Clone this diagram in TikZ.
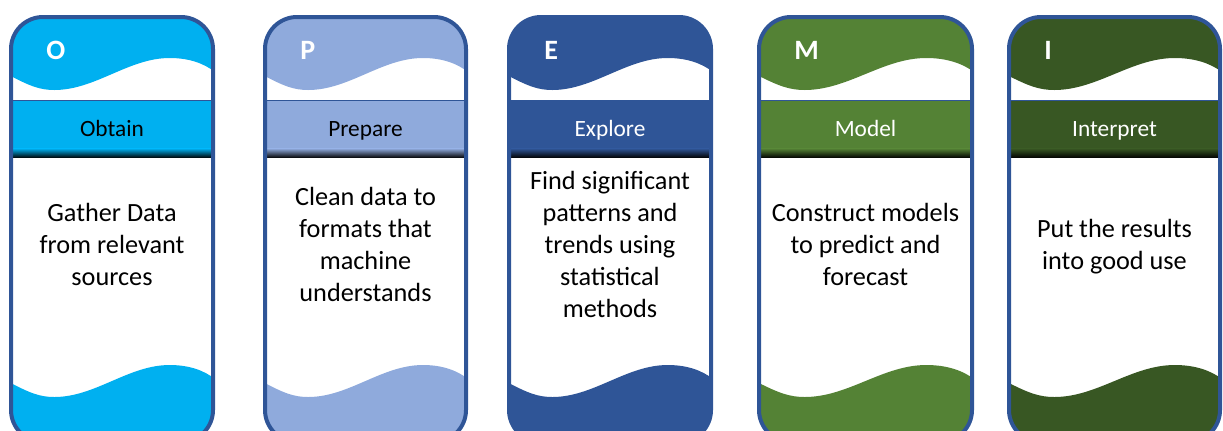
\documentclass[tikz,border=0pt]{standalone}
\usepackage{fontspec}
\setmainfont{Carlito}
\definecolor{bd}{HTML}{2F5597}
\definecolor{cO}{HTML}{00B0F0}
\definecolor{cP}{HTML}{8FAADC}
\definecolor{cE}{HTML}{2F5597}
\definecolor{cM}{HTML}{548235}
\definecolor{cI}{HTML}{385723}
\tikzset{
  lettertxt/.style={anchor=west, text=white, font=\fontsize{21}{24}\selectfont\bfseries, inner sep=0pt},
  labeltxt/.style={anchor=base, font=\fontsize{17.5}{21}\selectfont, inner sep=0pt},
  bodytxt/.style={align=center, font=\fontsize{19.7}{24}\selectfont, inner sep=0pt},
  cardborder/.style={draw=bd, line width=3pt, rounded corners=24pt}
}
\begin{document}
\begin{tikzpicture}[x=0.75pt,y=-0.75pt]
\useasboundingbox (0,0) rectangle (1223,430);
\foreach \L/\R/\c/\tc/\ltr/\lab/\body [count=\i] in {
 9/215/cO/black/O/Obtain/{Gather Data\\from relevant\\sources},
 263/468/cP/black/P/Prepare/{Clean data to\\formats that\\machine\\understands},
 507/713/cE/white/E/Explore/{Find significant\\patterns and\\trends using\\statistical\\methods},
 757/974/cM/white/M/Model/{Construct models\\to predict and\\forecast},
 1007/1222/cI/white/I/Interpret/{Put the results\\into good use}}
{
 \pgfmathsetmacro{\W}{\R-\L}
 \begin{scope}
  \clip[rounded corners=24pt] (\L+2,17) rectangle (\R-2,442);
  \fill[\c] (\L,0) -- (\L,75)
     .. controls (\L+0.10*\W,86) and (\L+0.15*\W,90) .. (\L+0.22*\W,90)
     .. controls (\L+0.42*\W,90) and (\L+0.58*\W,58) .. (\L+0.78*\W,58)
     .. controls (\L+0.88*\W,58) and (\L+0.95*\W,64) .. (\R,72)
     -- (\R,0) -- cycle;
  \fill[\c] (\L,450) -- (\L,382)
     .. controls (\L+0.10*\W,393) and (\L+0.15*\W,397) .. (\L+0.22*\W,397)
     .. controls (\L+0.42*\W,397) and (\L+0.58*\W,365) .. (\L+0.78*\W,365)
     .. controls (\L+0.88*\W,365) and (\L+0.95*\W,371) .. (\R,379)
     -- (\R,450) -- cycle;
  \fill[\c] (\L,100) rectangle (\R,149);
  \shade[top color=\c, bottom color=black!90!\c] (\L,148.5) rectangle (\R,157);
  \draw[bd, line width=0.75pt] (\L,100) -- (\R,100);
 \end{scope}
 \draw[cardborder] (\L+2,17) rectangle (\R-2,442);
 \node[lettertxt] (let\i) at (\L+37,50) {\ltr};
 \node[labeltxt, text=\tc] (lab\i) at ({(\L+\R)/2},136) {\lab};
 \node[bodytxt] (body\i) at ({(\L+\R)/2},247) {\strut\body\strut};
}
\end{tikzpicture}
\end{document}
